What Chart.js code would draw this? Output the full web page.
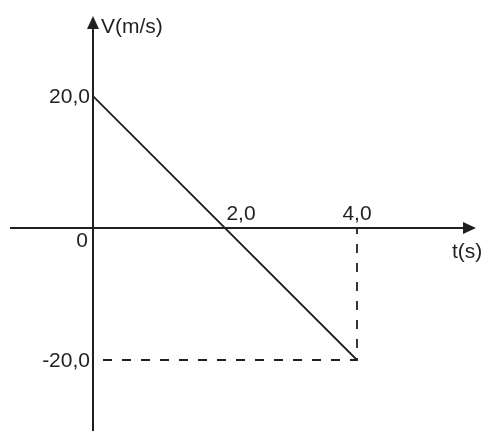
<!DOCTYPE html>
<html>
<head>
<meta charset="utf-8">
<script src="https://cdn.jsdelivr.net/npm/chart.js@4/dist/chart.umd.min.js"></script>
<style>
  html, body { margin: 0; padding: 0; background: #ffffff; }
  canvas { display: block; }
</style>
</head>
<body>
<canvas id="velocity-chart" width="483" height="431"></canvas>
<script>
// data
const TIMES = [0, 4];
const VELOCITIES = [20, -20];
const GUIDE_TIMES = [0, 4, 4];
const GUIDE_VELOCITIES = [-20, -20, 0];
const X_TICKS = [2, 4];
const X_TICK_LABELS = ["2,0", "4,0"];
const Y_TICKS = [20, -20];
const Y_TICK_LABELS = ["20,0", "-20,0"];
const X_TITLE = "t(s)";
const Y_TITLE = "V(m/s)";
const ORIGIN_LABEL = "0";

const INK = "#231f20";
const FONT = '21px "Liberation Sans", Arial, sans-serif';

function toPoints(xs, ys) {
  return xs.map((x, i) => ({ x: x, y: ys[i] }));
}

const axesPlugin = {
  id: "axes",
  beforeDatasetsDraw(chart) {
    var ctx = chart.ctx;
    var x = chart.scales.x;
    var y = chart.scales.y;
    var x0 = x.getPixelForValue(0);
    var y0 = y.getPixelForValue(0);

    ctx.save();
    ctx.strokeStyle = INK;
    ctx.fillStyle = INK;
    ctx.lineWidth = 2;

    // horizontal axis
    ctx.beginPath();
    ctx.moveTo(10, y0);
    ctx.lineTo(466, y0);
    ctx.stroke();
    ctx.beginPath();
    ctx.moveTo(476, y0);
    ctx.lineTo(463, y0 - 6);
    ctx.lineTo(463, y0 + 6);
    ctx.closePath();
    ctx.fill();

    // vertical axis
    ctx.beginPath();
    ctx.moveTo(x0, chart.height);
    ctx.lineTo(x0, 26);
    ctx.stroke();
    ctx.beginPath();
    ctx.moveTo(x0, 16);
    ctx.lineTo(x0 - 6, 29);
    ctx.lineTo(x0 + 6, 29);
    ctx.closePath();
    ctx.fill();

    ctx.font = FONT;
    ctx.textBaseline = "middle";

    ctx.textAlign = "right";
    Y_TICKS.forEach((v, i) => ctx.fillText(Y_TICK_LABELS[i], x0 - 3, y.getPixelForValue(v) + 1));

    ctx.textAlign = "center";
    X_TICKS.forEach((t, i) => {
      var px = x.getPixelForValue(t);
      var dx = i == 0 ? 16 : 0;
      ctx.fillText(X_TICK_LABELS[i], px + dx, y0 - 14);
    });

    ctx.fillText(ORIGIN_LABEL, x0 - 11, y0 + 13);

    ctx.textAlign = "left";
    ctx.fillText(Y_TITLE, x0 + 8, 27);
    ctx.fillText(X_TITLE, 452, y0 + 24);
    ctx.restore();
  }
};

new Chart("velocity-chart", {
  type: "scatter",
  data: {
    datasets: [
      {
        data: toPoints(TIMES, VELOCITIES),
        showLine: true,
        borderColor: INK,
        borderWidth: 1.8,
        pointRadius: 0
      },
      {
        data: toPoints(GUIDE_TIMES, GUIDE_VELOCITIES),
        showLine: true,
        borderColor: INK,
        borderWidth: 1.8,
        borderDash: [9, 10],
        borderDashOffset: 9,
        pointRadius: 0
      }
    ]
  },
  plugins: [axesPlugin],
  options: {
    responsive: false,
    animation: false,
    events: [],
    layout: { padding: 0 },
    plugins: {
      legend: { display: false },
      tooltip: { enabled: false }
    },
    scales: {
      x: { type: "linear", display: false, min: -1.409, max: 5.909 },
      y: { type: "linear", display: false, min: -30.76, max: 34.55 }
    }
  }
});
</script>
</body>
</html>
